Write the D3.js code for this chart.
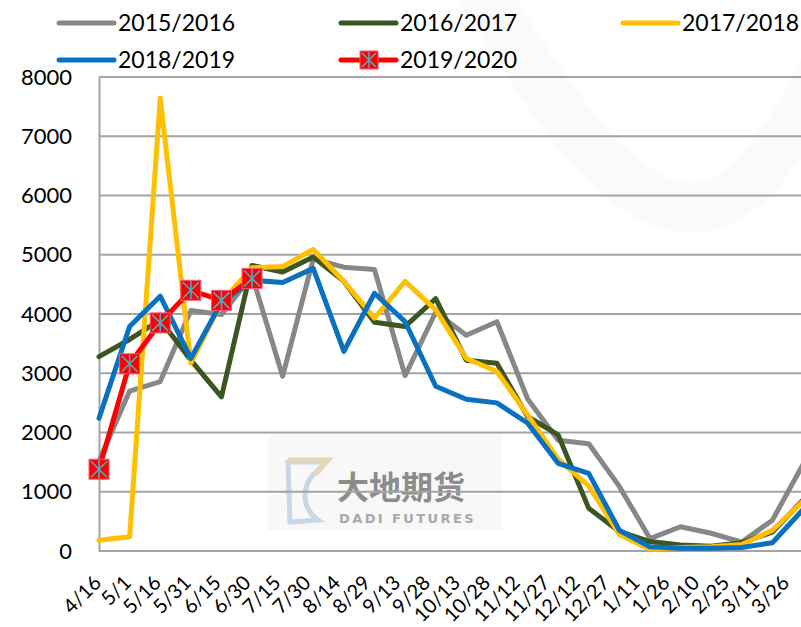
<!DOCTYPE html>
<html>
<head>
<meta charset="utf-8">
<script src="https://cdnjs.cloudflare.com/ajax/libs/d3/7.8.5/d3.min.js"></script>
<style>
  body { margin: 0; background: #fff; }
  svg { display: block; font-family: Lato, "Open Sans", sans-serif; }
</style>
</head>
<body>
<div id="chart"></div>
<script>
// Category labels (x axis)
var dates = ["4/16", "5/1", "5/16", "5/31", "6/15", "6/30", "7/15", "7/30", "8/14", "8/29",
  "9/13", "9/28", "10/13", "10/28", "11/12", "11/27", "12/12", "12/27", "1/11", "1/26",
  "2/10", "2/25", "3/11", "3/26"];

// Series values
var s1516 = [1520, 2700, 2860, 4060, 3990, 4650, 2950, 4930, 4790, 4750, 2960, 4030,
  3640, 3870, 2570, 1870, 1810, 1090, 210, 410, 300, 150, 520, 1460];
var s1617 = [3280, 3570, 3900, 3220, 2600, 4820, 4710, 4960, 4550, 3860, 3790, 4260,
  3220, 3170, 2270, 1960, 720, 330, 160, 100, 80, 140, 320, 860];
var s1718 = [180, 240, 7640, 3170, 4200, 4780, 4800, 5090, 4550, 3930, 4550, 4070,
  3250, 3030, 2300, 1550, 1100, 280, 30, 60, 70, 110, 350, 840];
var s1819 = [2240, 3790, 4300, 3250, 4200, 4570, 4530, 4770, 3370, 4350, 3870, 2780,
  2560, 2500, 2160, 1480, 1310, 350, 70, 45, 45, 60, 140, 700];
var s1920 = [1380, 3160, 3850, 4400, 4230, 4600];

var yTicks = [0, 1000, 2000, 3000, 4000, 5000, 6000, 7000, 8000];

var seriesNames = ["2015/2016", "2016/2017", "2017/2018", "2018/2019", "2019/2020"];
var seriesColors = ["#878787", "#3b5623", "#ffc000", "#0a70c0", "#ff0000"];
var seriesData = [s1516, s1617, s1718, s1819, s1920];

// SVG area dimensions
var svgWidth = 801;
var svgHeight = 627;

// plot area (right side is cut by the window)
var plot = { left: 99, top: 77, bottom: 551, right: 803 };

var svg = d3.select("#chart")
  .append("svg")
  .attr("width", svgWidth)
  .attr("height", svgHeight);

// scales
var xScale = d3.scalePoint()
  .domain(dates)
  .range([plot.left, plot.right]);

// rotated labels sit a little off the ticks in the original
var xLabelScale = d3.scalePoint()
  .domain(dates)
  .range([plot.left + 3, plot.right - 13]);

var yScale = d3.scaleLinear()
  .domain([0, 8000])
  .range([plot.bottom, plot.top]);

// faint watermark swoosh in the background
svg.append("path")
  .attr("d", "M470,-30 C560,120 620,205 690,208 C745,210 790,140 840,40")
  .attr("fill", "none")
  .attr("stroke", "#fafafa")
  .attr("stroke-width", 50);

// logo box
var logo = svg.append("g");
logo.append("rect")
  .attr("x", 268).attr("y", 434)
  .attr("width", 234).attr("height", 96)
  .attr("fill", "#f8f8f8");
logo.append("path")
  .attr("d", "M288,462 L326,462 L312,476 C300,492 304,510 318,520 L290,522 Z")
  .attr("fill", "none")
  .attr("stroke", "#c9d6e6")
  .attr("stroke-width", 5);
logo.append("path")
  .attr("d", "M288,460 L328,460 L316,474")
  .attr("fill", "none")
  .attr("stroke", "#e6d6b8")
  .attr("stroke-width", 5);
logo.append("text")
  .attr("x", 337).attr("y", 499)
  .attr("font-family", "'Noto Sans CJK SC', sans-serif")
  .attr("font-weight", "bold")
  .attr("font-size", 32)
  .attr("fill", "#8c8c8c")
  .text("大地期货");
logo.append("text")
  .attr("x", 339).attr("y", 523)
  .attr("font-family", "'DejaVu Sans', sans-serif")
  .attr("font-weight", "bold")
  .attr("font-size", 13)
  .attr("letter-spacing", 2.4)
  .attr("fill", "#a8a8a8")
  .text("DADI FUTURES");

// horizontal gridlines
svg.append("g")
  .selectAll("line")
  .data(yTicks)
  .enter()
  .append("line")
  .attr("x1", plot.left)
  .attr("x2", svgWidth)
  .attr("y1", d => yScale(d))
  .attr("y2", d => yScale(d))
  .attr("stroke", "#a3a3a3")
  .attr("stroke-width", 2);

// y axis
var leftAxis = d3.axisLeft(yScale)
  .tickValues(yTicks)
  .tickFormat(d3.format("d"))
  .tickSize(0)
  .tickPadding(27);
var yAxisG = svg.append("g")
  .attr("transform", `translate(${plot.left}, 0)`)
  .call(leftAxis);
yAxisG.select(".domain")
  .attr("stroke", "#a3a3a3")
  .attr("stroke-width", 2);
yAxisG.selectAll("text")
  .attr("font-family", "Lato, sans-serif")
  .attr("font-size", 22)
  .attr("fill", "#000");

// x axis labels, rotated
var bottomAxis = d3.axisBottom(xLabelScale).tickSize(0);
var xAxisG = svg.append("g")
  .attr("transform", `translate(0, ${plot.bottom})`)
  .call(bottomAxis);
xAxisG.select(".domain").remove();
xAxisG.selectAll("text")
  .attr("font-family", "Lato, sans-serif")
  .attr("font-size", 20)
  .attr("fill", "#000")
  .attr("text-anchor", "end")
  .attr("x", 0)
  .attr("y", 0)
  .attr("dy", 0)
  .attr("transform", "translate(0, 33) rotate(-45)");

// lines
var drawLine = d3.line()
  .x((d, i) => xScale(dates[i]))
  .y(d => yScale(d));

var linesG = svg.append("g");
seriesData.forEach(function(data, k) {
  linesG.append("path")
    .attr("d", drawLine(data))
    .attr("fill", "none")
    .attr("stroke", seriesColors[k])
    .attr("stroke-width", 5)
    .attr("stroke-linejoin", "round")
    .attr("stroke-linecap", "round");
});

// square star markers for 2019/2020
function drawMarker(g, size) {
  var h = size / 2;
  g.append("rect")
    .attr("x", -h).attr("y", -h)
    .attr("width", size).attr("height", size)
    .attr("fill", "#ff0000")
    .attr("stroke", "#ff5a6e")
    .attr("stroke-width", 1);
  var a = h - 2;
  g.append("path")
    .attr("d", `M${-a},${-a}L${a},${a}M${a},${-a}L${-a},${a}M0,${-h + 1}L0,${h - 1}`)
    .attr("stroke", "#4bacc6")
    .attr("stroke-width", 1.6);
}

linesG.selectAll(".marker")
  .data(s1920)
  .enter()
  .append("g")
  .attr("class", "marker")
  .attr("transform", (d, i) => `translate(${xScale(dates[i])}, ${yScale(d)})`)
  .each(function() { drawMarker(d3.select(this), 20); });

// legend
var legendPos = [
  { x: 59, y: 23 }, { x: 341, y: 23 }, { x: 623, y: 23 },
  { x: 59, y: 60 }, { x: 341, y: 60 }
];
var legend = svg.append("g");
seriesNames.forEach(function(name, k) {
  var p = legendPos[k];
  var item = legend.append("g").attr("transform", `translate(${p.x}, ${p.y})`);
  item.append("line")
    .attr("x1", 0).attr("x2", 55)
    .attr("y1", 0).attr("y2", 0)
    .attr("stroke", seriesColors[k])
    .attr("stroke-width", 5)
    .attr("stroke-linecap", "round");
  if (k === 4) {
    drawMarker(item.append("g").attr("transform", "translate(28, 0)"), 18);
  }
  item.append("text")
    .attr("x", 59)
    .attr("y", 0)
    .attr("dy", "0.36em")
    .attr("font-size", 23)
    .attr("fill", "#000")
    .text(name);
});
</script>
</body>
</html>
